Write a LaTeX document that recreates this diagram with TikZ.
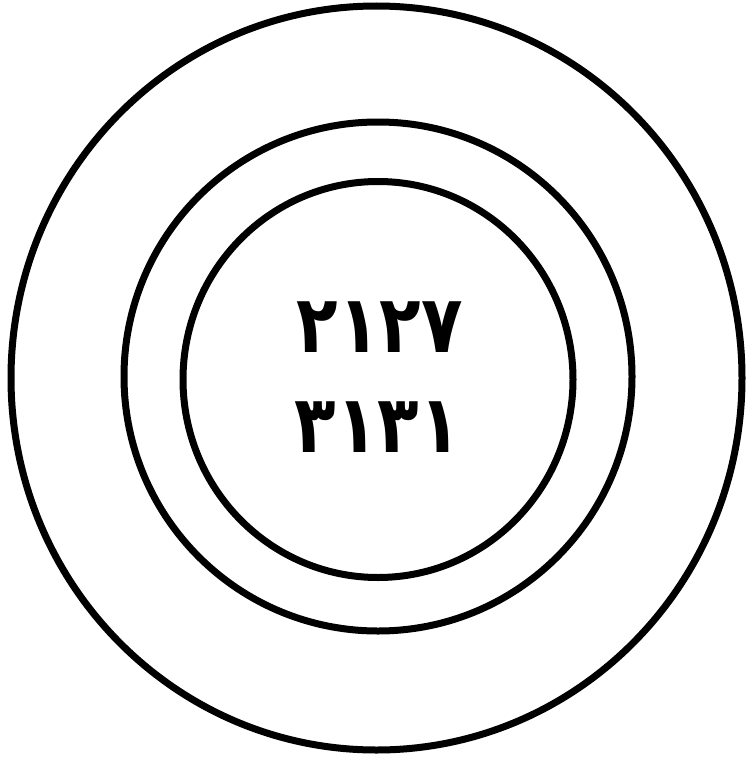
\documentclass[tikz,border=0pt]{standalone}
\usepackage{fontspec}
\newfontfamily\arabicfont[Script=Arabic]{DejaVu Sans}
\begin{document}
\begin{tikzpicture}[x=1pt,y=-1pt,
  ring/.style={line width=7pt, draw=black},
  digits/.style={font=\arabicfont\bfseries\fontsize{80}{80}\selectfont, inner sep=0pt, anchor=center, xscale=0.85, transform shape}]
\useasboundingbox (0,0) rectangle (752,771);
\draw[ring] (376.5,378) ellipse [x radius=365.5, y radius=372];
\draw[ring] (378,376.5) ellipse [x radius=254, y radius=254.5];
\draw[ring] (378,379.5) ellipse [x radius=195, y radius=198];
\node[digits] (l1) at (380,327) {٢١٢٧};
\node[digits] (l2) at (378,427) {٣١٣١};
\end{tikzpicture}
\end{document}
